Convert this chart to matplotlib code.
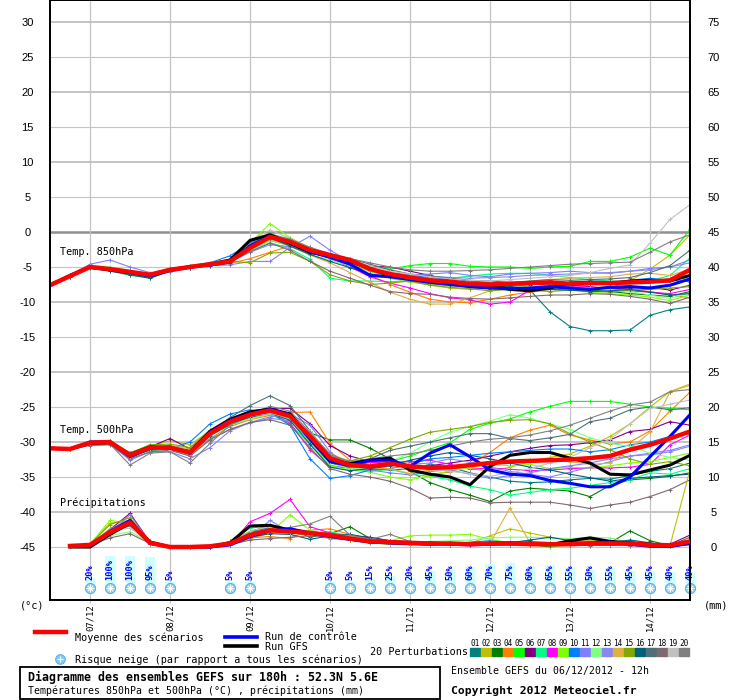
import matplotlib
matplotlib.use("Agg")
import matplotlib.pyplot as plt
from matplotlib.lines import Line2D
from matplotlib.patches import Rectangle

# time axis: hours after 06/12/2012 12h
hours = list(range(0, 193, 6))
precip_hours = hours[1:]
day_hours = [12, 36, 60, 84, 108, 132, 156, 180]
day_labels = ['07/12', '08/12', '09/12', '10/12', '11/12', '12/12', '13/12', '14/12']

pert_colors = ['#008080', '#c0c000', '#008000', '#ff8000', '#00ff00', '#800080', '#00ff80',
               '#ff00ff', '#80ff00', '#0080ff', '#8080ff', '#80ff80', '#8888f0', '#e0b040',
               '#80a800', '#006080', '#507078', '#806870', '#c0c0c0', '#808080']

# ---- Temp 850hPa ----
mean_850 = [-7.6,-6.3,-5.0,-5.3,-5.7,-6.1,-5.4,-5.0,-4.6,-4.2,-2.3,-0.7,-1.4,-2.6,-3.3,-4.0,-5.3,-6.0,-6.5,-6.9,-7.1,-7.4,-7.5,-7.4,-7.3,-7.2,-7.4,-7.3,-7.3,-7.2,-7.1,-6.9,-5.4]
ctrl_850 = [-7.6,-6.3,-5.0,-5.3,-5.8,-6.3,-5.5,-5.0,-4.7,-4.3,-2.0,-0.6,-1.5,-2.8,-3.6,-4.6,-6.2,-6.4,-6.8,-7.2,-7.5,-7.8,-8.0,-8.1,-8.0,-7.8,-8.0,-8.2,-7.9,-7.8,-8.0,-7.6,-6.7]
gfs_850 = [-7.6,-6.2,-5.0,-5.4,-5.8,-6.2,-5.4,-5.0,-4.6,-4.0,-1.2,-0.4,-1.6,-2.9,-3.4,-4.2,-5.2,-6.2,-6.6,-6.9,-7.3,-7.6,-7.6,-8.2,-8.4,-8.0,-7.3,-7.2,-7.4,-7.0,-6.9,-7.0,-6.2]
pert_850 = [
    [-7.6,-6.4,-5.1,-5.4,-5.9,-6.4,-5.5,-5.0,-4.7,-4.3,-2.4,-1.0,-1.8,-3.0,-3.6,-4.6,-5.5,-6.2,-6.8,-7.3,-7.6,-7.8,-8.0,-8.0,-8.3,-11.4,-13.5,-14.1,-14.1,-14.0,-11.9,-11.1,-10.7],
    [-7.6,-6.3,-4.9,-5.2,-5.6,-6.0,-5.6,-4.9,-4.5,-4.1,-2.6,-0.9,-1.0,-2.3,-3.3,-4.3,-5.3,-6.4,-7.0,-7.6,-8.0,-8.2,-8.0,-7.6,-7.3,-7.8,-8.2,-8.4,-8.0,-7.0,-5.3,-3.3,-0.4],
    [-7.6,-6.3,-5.0,-5.5,-6.0,-6.4,-5.4,-4.9,-4.5,-4.3,-2.5,-1.2,-1.9,-2.9,-3.5,-4.4,-5.6,-6.4,-6.9,-7.4,-7.6,-7.9,-8.1,-8.3,-8.4,-8.2,-8.0,-8.3,-8.5,-8.8,-9.0,-9.2,-8.5],
    [-7.6,-6.3,-5.1,-5.4,-5.8,-6.0,-5.5,-5.0,-4.7,-4.5,-3.8,-2.9,-2.0,-2.5,-3.5,-4.8,-6.2,-7.5,-8.6,-9.6,-10.0,-10.1,-9.6,-9.0,-8.6,-8.2,-8.3,-8.0,-7.8,-8.2,-8.5,-9.0,-9.4],
    [-7.6,-6.2,-4.9,-5.3,-5.8,-6.3,-5.3,-4.8,-4.5,-4.0,-1.8,-0.2,-1.2,-2.5,-3.4,-4.6,-5.0,-5.3,-4.8,-4.5,-4.5,-4.9,-5.0,-5.0,-5.2,-5.0,-4.9,-4.2,-4.2,-3.6,-2.3,-3.3,0.4],
    [-7.6,-6.3,-5.0,-5.3,-5.7,-6.1,-5.5,-5.1,-4.6,-4.1,-2.0,-0.8,-1.6,-2.7,-3.5,-4.3,-4.9,-5.0,-5.6,-6.2,-6.9,-7.3,-7.5,-7.7,-7.5,-7.4,-7.6,-7.8,-8.1,-8.0,-7.9,-8.3,-7.6],
    [-7.6,-6.2,-5.1,-5.5,-6.2,-6.6,-5.5,-4.9,-4.5,-4.3,-2.7,-1.5,-2.4,-3.9,-6.6,-7.0,-7.0,-7.1,-7.0,-6.8,-6.6,-6.3,-6.0,-5.9,-5.9,-6.2,-6.5,-6.8,-7.0,-7.2,-7.0,-6.2,-3.7],
    [-7.6,-6.3,-5.0,-5.3,-5.7,-6.1,-5.3,-4.9,-4.5,-4.1,-2.3,-1.0,-1.6,-2.9,-3.8,-5.0,-6.4,-7.3,-8.0,-8.8,-9.4,-9.7,-10.3,-10.0,-8.3,-8.0,-7.8,-7.9,-8.1,-8.4,-8.6,-8.8,-8.2],
    [-7.6,-6.2,-4.8,-5.0,-5.5,-6.0,-5.2,-4.8,-4.4,-3.9,-1.6,1.2,-0.8,-2.3,-3.5,-4.5,-5.6,-6.6,-7.2,-7.5,-7.7,-7.6,-7.4,-7.5,-7.9,-8.1,-8.3,-8.6,-8.8,-9.0,-9.3,-9.8,-9.0],
    [-7.6,-6.3,-5.0,-5.2,-5.6,-6.0,-5.3,-4.8,-4.4,-3.4,-1.6,-0.6,-1.5,-2.8,-3.4,-4.3,-5.2,-5.9,-6.2,-6.5,-6.7,-7.0,-7.2,-7.2,-7.3,-7.4,-7.2,-7.0,-7.1,-6.9,-6.6,-6.9,-7.1],
    [-7.6,-6.1,-4.6,-4.0,-5.0,-5.8,-5.7,-5.2,-4.8,-4.7,-4.2,-4.2,-2.2,-0.6,-2.6,-4.2,-5.3,-5.9,-6.2,-6.0,-5.8,-6.2,-6.4,-6.0,-5.9,-5.8,-5.6,-5.8,-5.9,-5.6,-5.2,-5.0,-4.0],
    [-7.6,-6.3,-5.1,-5.5,-6.0,-6.3,-5.6,-5.1,-4.7,-4.4,-2.6,-1.2,-2.0,-3.2,-4.0,-4.8,-5.8,-6.6,-7.0,-7.3,-7.5,-7.6,-7.8,-8.0,-7.9,-7.7,-7.9,-8.0,-8.2,-8.5,-9.0,-9.5,-8.7],
    [-7.6,-6.3,-5.0,-5.3,-5.8,-6.2,-5.2,-4.9,-4.5,-4.2,-2.9,-1.8,-2.1,-2.9,-3.6,-4.3,-5.4,-5.9,-6.1,-6.3,-6.5,-6.6,-6.5,-6.4,-6.2,-6.1,-6.0,-5.9,-5.8,-5.6,-5.4,-5.0,-4.4],
    [-7.6,-6.3,-5.0,-5.4,-5.9,-6.3,-5.6,-5.0,-4.6,-4.1,-2.5,-1.1,-2.0,-3.3,-4.4,-5.8,-7.2,-8.6,-9.6,-10.3,-10.3,-9.4,-8.4,-7.4,-7.0,-6.8,-6.6,-6.5,-6.4,-6.0,-5.9,-6.2,-5.3],
    [-7.6,-6.3,-5.0,-5.3,-5.7,-6.2,-5.5,-5.0,-4.6,-4.2,-4.4,-3.0,-2.9,-4.2,-6.1,-7.0,-7.5,-7.3,-7.0,-7.6,-7.9,-8.1,-8.4,-8.2,-8.3,-8.5,-8.3,-8.4,-8.6,-8.3,-8.2,-8.0,-7.8],
    [-7.6,-6.4,-5.2,-5.6,-6.1,-6.6,-5.6,-5.1,-4.8,-4.4,-2.1,-0.8,-2.0,-3.2,-4.2,-5.1,-6.0,-6.4,-6.7,-7.2,-7.5,-7.6,-7.8,-7.8,-8.0,-8.2,-8.3,-8.5,-8.4,-8.2,-8.6,-9.0,-8.8],
    [-7.6,-6.3,-5.0,-5.3,-5.7,-6.2,-5.4,-4.9,-4.5,-4.0,-1.9,-0.5,-1.4,-2.7,-3.3,-3.8,-4.6,-5.4,-6.0,-6.3,-6.6,-6.9,-7.0,-7.2,-7.0,-6.8,-6.9,-6.8,-6.7,-6.5,-5.8,-4.8,-2.6],
    [-7.6,-6.3,-5.0,-5.3,-5.7,-6.1,-5.4,-5.0,-4.6,-4.3,-2.8,-1.6,-2.6,-4.2,-5.6,-6.6,-7.6,-8.5,-8.8,-8.9,-9.3,-9.5,-9.6,-9.4,-9.2,-9.0,-9.0,-8.8,-8.9,-9.2,-9.6,-10.2,-9.3],
    [-7.6,-6.2,-4.9,-5.2,-5.7,-6.1,-5.3,-4.8,-4.4,-3.9,-1.2,0.3,-0.9,-2.2,-3.1,-4.0,-4.8,-5.6,-6.0,-6.4,-6.7,-6.9,-7.0,-6.8,-6.6,-6.4,-6.2,-5.8,-5.2,-4.7,-1.6,1.8,3.9],
    [-7.6,-6.3,-5.0,-5.3,-5.6,-6.0,-5.3,-4.9,-4.5,-4.0,-1.5,-0.3,-1.0,-2.2,-3.1,-3.8,-4.4,-5.0,-5.4,-5.6,-5.6,-5.5,-5.4,-5.2,-5.0,-4.8,-4.6,-4.5,-4.4,-4.3,-2.9,-1.4,-0.4],
]

# ---- Temp 500hPa ----
mean_500 = [-30.9,-31.0,-30.1,-30.0,-31.9,-30.8,-30.8,-31.5,-28.8,-27.1,-26.1,-25.5,-26.3,-29.2,-32.3,-33.3,-33.5,-33.1,-33.5,-33.7,-33.6,-33.3,-33.0,-32.8,-32.7,-32.6,-32.5,-32.3,-32.0,-31.1,-30.4,-29.5,-28.5]
ctrl_500 = [-30.9,-31.0,-30.0,-30.0,-32.1,-30.9,-30.7,-31.6,-28.6,-26.9,-26.0,-25.3,-26.1,-29.6,-32.8,-33.4,-32.6,-32.6,-33.5,-31.6,-30.4,-32.1,-34.0,-34.6,-34.8,-35.5,-35.9,-36.4,-36.4,-35.0,-32.1,-29.2,-26.1]
gfs_500 = [-30.9,-31.0,-30.2,-30.1,-31.8,-30.7,-30.9,-31.4,-28.5,-26.8,-25.7,-25.3,-26.0,-29.4,-32.5,-33.1,-32.6,-32.3,-34.0,-34.6,-35.0,-36.1,-33.5,-31.9,-31.5,-31.5,-32.3,-33.0,-34.6,-34.7,-34.0,-33.3,-31.9]
pert_500 = [
    [-30.9,-31.0,-30.2,-30.0,-32.3,-31.0,-30.6,-31.6,-29.0,-27.4,-26.5,-25.8,-26.6,-29.8,-33.0,-33.6,-33.8,-34.0,-33.8,-33.2,-33.6,-34.4,-35.0,-35.6,-35.8,-35.7,-35.4,-35.2,-35.3,-34.8,-34.2,-33.8,-33.0],
    [-30.9,-31.0,-30.0,-29.8,-31.7,-30.6,-29.8,-30.4,-28.4,-26.9,-26.0,-25.6,-26.8,-28.8,-31.6,-32.9,-33.2,-32.7,-33.1,-33.5,-33.4,-33.8,-34.2,-33.6,-32.8,-32.2,-31.7,-30.6,-29.2,-27.4,-25.0,-22.8,-21.9],
    [-30.9,-31.0,-30.1,-29.9,-31.8,-30.9,-30.9,-31.4,-28.9,-27.3,-26.2,-25.7,-26.4,-28.7,-29.7,-29.7,-30.9,-32.4,-34.2,-35.8,-36.8,-37.6,-38.5,-37.0,-36.6,-36.8,-37.0,-37.8,-36.2,-35.4,-35.2,-34.9,-34.4],
    [-30.9,-31.0,-30.2,-30.1,-32.2,-30.9,-31.0,-32.0,-29.5,-27.8,-26.8,-26.2,-25.8,-25.7,-30.2,-32.6,-33.4,-33.0,-34.0,-34.6,-34.3,-33.2,-31.5,-29.4,-28.3,-27.6,-29.0,-29.7,-30.3,-30.0,-28.4,-25.6,-22.9],
    [-30.9,-31.0,-30.0,-29.9,-31.6,-30.4,-30.6,-31.2,-28.4,-26.8,-25.8,-25.1,-26.0,-28.8,-32.4,-33.6,-33.4,-32.8,-32.0,-31.0,-30.1,-28.2,-27.3,-26.7,-25.7,-24.9,-24.2,-24.2,-24.2,-24.6,-25.0,-25.2,-25.4],
    [-30.9,-31.0,-30.0,-30.0,-31.5,-30.7,-29.5,-31.0,-28.3,-26.6,-25.6,-25.2,-25.2,-27.4,-30.5,-32.0,-32.8,-33.0,-33.6,-33.4,-33.0,-32.6,-32.0,-31.4,-30.9,-30.5,-30.4,-30.1,-29.7,-28.5,-28.2,-27.1,-27.6],
    [-30.9,-31.0,-30.1,-30.1,-31.9,-31.3,-30.9,-31.8,-29.1,-27.6,-26.6,-26.0,-27.4,-30.4,-33.3,-33.8,-34.2,-33.9,-34.6,-34.9,-35.4,-36.3,-36.8,-37.6,-37.2,-36.8,-36.6,-36.2,-35.8,-35.4,-34.4,-34.6,-33.8],
    [-30.9,-31.0,-30.3,-30.1,-31.8,-30.6,-30.8,-31.3,-28.9,-27.0,-26.4,-25.8,-27.3,-31.1,-33.6,-33.6,-32.9,-32.9,-32.8,-32.6,-33.2,-33.9,-33.7,-33.9,-34.1,-34.0,-33.8,-33.7,-33.7,-33.6,-33.2,-30.4,-29.0],
    [-30.9,-31.0,-30.0,-29.9,-32.2,-30.5,-30.9,-31.4,-28.6,-27.2,-26.3,-25.6,-26.6,-30.0,-33.4,-34.0,-34.3,-35.0,-35.4,-34.8,-34.1,-33.7,-33.2,-33.4,-33.2,-33.8,-33.6,-33.7,-33.4,-33.0,-32.8,-32.2,-31.6],
    [-30.9,-31.0,-30.2,-30.0,-32.0,-31.0,-31.0,-30.0,-27.4,-26.0,-25.4,-25.8,-27.6,-32.4,-35.2,-34.8,-34.0,-33.8,-33.2,-32.4,-32.2,-31.9,-31.6,-31.4,-31.2,-31.0,-31.0,-31.4,-31.1,-30.4,-30.0,-29.2,-28.8],
    [-30.9,-31.0,-30.3,-30.3,-32.6,-31.4,-31.4,-32.4,-30.8,-28.4,-27.2,-26.4,-26.0,-27.6,-31.4,-33.6,-34.0,-34.4,-34.7,-34.2,-34.0,-34.6,-35.2,-34.8,-34.4,-33.8,-33.4,-33.0,-32.4,-32.0,-31.6,-31.2,-30.4],
    [-30.9,-31.0,-30.1,-30.1,-32.0,-30.6,-31.0,-31.8,-29.2,-27.4,-26.7,-26.0,-26.8,-29.0,-32.8,-33.9,-33.6,-32.8,-31.6,-30.0,-28.6,-27.8,-27.0,-26.1,-26.6,-27.4,-28.2,-29.4,-30.2,-30.6,-31.6,-32.2,-32.6],
    [-30.9,-31.0,-30.1,-30.0,-31.7,-30.8,-30.6,-31.2,-29.6,-28.2,-27.3,-26.6,-27.0,-29.8,-32.5,-33.2,-33.5,-33.8,-33.2,-33.0,-32.4,-32.9,-33.6,-34.2,-34.6,-35.0,-34.3,-33.6,-32.8,-32.0,-31.8,-31.4,-30.6],
    [-30.9,-31.0,-30.0,-29.9,-31.5,-30.6,-30.5,-31.0,-28.7,-26.9,-26.1,-25.5,-26.2,-29.2,-32.4,-33.4,-33.7,-33.8,-34.5,-34.0,-33.9,-33.6,-33.0,-32.8,-32.6,-32.4,-32.8,-33.2,-33.0,-31.0,-28.6,-22.8,-21.7],
    [-30.9,-31.0,-29.9,-29.8,-31.6,-30.4,-30.3,-30.8,-28.3,-26.8,-25.9,-25.3,-26.4,-29.0,-32.0,-32.7,-32.0,-30.8,-29.6,-28.6,-28.2,-27.8,-27.2,-26.9,-26.8,-27.4,-28.8,-30.0,-31.1,-32.4,-33.2,-32.8,-33.4],
    [-30.9,-31.0,-30.2,-30.1,-32.1,-31.1,-31.1,-31.7,-29.1,-27.5,-26.4,-25.9,-26.9,-30.3,-33.6,-34.1,-33.8,-33.4,-32.6,-32.0,-31.5,-31.9,-32.4,-33.0,-33.6,-34.0,-34.6,-35.1,-35.6,-35.2,-35.0,-34.8,-34.6],
    [-30.9,-31.0,-30.1,-29.9,-31.9,-30.5,-30.7,-31.3,-28.6,-26.5,-24.8,-23.4,-24.8,-28.4,-32.0,-33.0,-32.4,-31.2,-30.6,-30.0,-29.4,-28.8,-28.8,-29.5,-29.8,-29.4,-28.9,-27.1,-26.6,-25.4,-25.0,-25.4,-25.1],
    [-30.9,-31.0,-30.5,-30.4,-32.4,-31.4,-31.2,-32.0,-29.7,-28.2,-27.2,-26.8,-27.6,-30.8,-33.8,-34.6,-35.0,-35.6,-36.6,-38.0,-37.9,-38.0,-38.7,-38.6,-38.6,-38.6,-39.0,-39.5,-39.0,-38.6,-37.8,-36.8,-35.4],
    [-30.9,-31.0,-30.2,-30.2,-32.2,-31.0,-31.1,-31.6,-28.9,-27.2,-26.3,-25.9,-26.5,-28.4,-32.0,-33.2,-33.3,-32.8,-33.2,-33.8,-34.2,-34.5,-34.9,-34.4,-33.8,-33.0,-32.2,-30.8,-29.6,-27.4,-25.2,-24.6,-24.0],
    [-30.9,-31.0,-30.3,-30.3,-33.3,-31.6,-31.4,-33.0,-30.2,-27.6,-26.0,-24.9,-25.6,-28.6,-31.8,-32.8,-32.4,-32.0,-31.7,-31.2,-30.6,-30.0,-29.6,-29.4,-29.0,-28.4,-27.6,-26.6,-25.6,-24.7,-24.3,-22.8,-22.5],
]

# ---- Precipitation (mm / 6h) ----
mean_pr = [0.15,0.3,2.1,3.5,0.6,0.0,0.0,0.1,0.5,1.7,2.4,2.2,2.0,1.7,1.2,0.8,0.7,0.6,0.5,0.5,0.4,0.5,0.5,0.4,0.4,0.4,0.5,0.5,0.5,0.3,0.25,0.8]
ctrl_pr = [0.1,0.1,2.2,3.8,0.5,0.0,0.0,0.0,0.3,1.5,2.3,2.6,2.0,1.5,1.1,0.7,0.6,0.5,0.6,0.4,0.3,0.4,0.5,0.6,0.5,0.4,0.6,0.7,0.4,0.1,0.1,0.5]
gfs_pr = [0.0,0.0,1.8,3.4,0.7,0.0,0.0,0.0,0.6,3.0,3.1,2.4,2.0,1.6,1.2,0.8,0.6,0.5,0.4,0.5,0.4,0.5,0.6,0.4,0.3,0.9,1.3,0.8,0.6,0.4,0.1,0.6]
pert_pr = [
    [0.1,0.3,2.0,3.4,0.6,0.0,0.0,0.1,0.4,1.6,2.6,2.0,1.8,1.4,1.4,0.8,0.7,0.5,0.6,0.4,0.6,0.4,0.3,0.5,0.4,0.3,0.4,0.6,0.4,0.3,0.2,0.6],
    [0.1,0.4,3.4,3.8,0.8,0.0,0.0,0.1,0.4,1.2,2.0,2.6,2.3,1.8,1.0,0.6,0.4,0.5,0.3,0.6,0.5,1.6,2.6,2.0,1.4,1.0,0.7,0.5,0.4,0.2,0.2,11.0],
    [0.1,0.2,1.8,3.6,0.8,0.0,0.0,0.1,0.7,2.2,2.8,2.5,1.4,1.9,2.9,1.2,0.8,0.6,0.4,0.4,0.3,0.6,0.5,0.3,0.4,0.5,0.3,0.6,2.3,0.9,0.2,0.5],
    [0.1,0.3,2.3,3.3,0.5,0.0,0.0,0.0,0.4,1.3,1.5,1.2,2.4,2.6,1.8,1.2,0.6,0.5,0.4,0.3,0.4,0.3,0.4,0.5,0.6,0.8,1.1,0.9,0.4,0.3,0.2,0.7],
    [0.1,0.2,2.1,3.5,0.9,0.0,0.0,0.0,0.6,1.9,2.2,2.3,1.8,1.5,1.0,0.6,0.4,0.3,0.4,0.3,0.4,0.5,0.4,0.3,0.0,0.3,0.4,0.4,0.3,0.2,0.1,0.9],
    [0.1,0.3,2.5,4.8,0.7,0.0,0.0,0.1,0.5,1.8,2.4,2.2,2.1,1.9,1.6,1.4,0.9,0.8,0.6,0.4,0.4,0.5,0.4,0.6,0.5,0.4,0.3,0.4,0.6,0.5,0.4,1.7],
    [0.1,0.2,1.9,3.2,0.6,0.0,0.0,0.1,0.8,2.7,3.0,2.0,1.8,2.2,1.6,1.0,0.8,0.6,0.5,0.3,0.4,0.3,0.4,0.5,0.3,0.6,0.3,0.4,0.3,0.2,0.1,0.8],
    [0.1,0.3,2.2,3.7,0.6,0.0,0.0,0.1,0.3,3.6,4.8,6.8,2.9,2.0,1.5,1.0,0.6,0.5,0.4,0.5,0.6,0.5,0.7,0.6,0.5,0.4,0.5,0.4,0.6,0.5,0.3,0.9],
    [0.1,0.4,3.8,3.4,0.8,0.0,0.0,0.1,0.5,1.6,2.0,4.6,2.4,1.6,1.3,1.0,0.9,1.6,1.7,1.7,1.8,1.1,0.6,0.4,0.5,0.6,0.5,0.4,0.3,0.2,0.1,0.6],
    [0.1,0.2,2.4,3.9,0.6,0.0,0.0,0.0,0.5,2.0,2.9,2.7,1.9,1.5,1.1,0.7,0.5,0.5,0.4,0.4,0.7,0.9,0.6,0.5,0.4,0.4,0.3,0.4,0.7,0.5,0.2,0.6],
    [0.1,0.3,2.0,4.6,0.6,0.0,0.0,0.0,0.3,1.4,3.8,2.1,1.9,1.4,1.3,0.9,0.7,0.6,0.5,0.4,0.3,0.3,0.4,0.5,0.6,0.5,0.6,0.7,0.6,0.2,0.1,0.4],
    [0.1,0.2,1.6,2.2,0.6,0.0,0.0,0.1,0.6,1.8,2.0,1.8,2.2,1.7,1.5,0.6,0.6,0.7,0.8,0.9,1.0,1.3,1.4,1.4,1.3,1.2,1.4,1.3,0.7,0.3,0.2,0.5],
    [0.1,0.3,2.3,3.6,0.5,0.0,0.0,0.0,0.4,1.6,2.4,2.8,1.8,1.2,1.0,0.6,0.5,0.4,0.4,0.3,0.3,0.4,0.3,0.4,0.5,0.5,0.4,0.3,0.2,0.1,0.1,0.3],
    [0.1,0.2,2.0,3.2,0.7,0.0,0.0,0.1,0.6,1.8,2.1,2.5,2.2,1.9,1.5,1.0,0.6,0.5,0.4,0.4,0.4,0.5,5.6,0.6,0.4,0.5,1.0,0.8,0.5,0.4,0.2,0.6],
    [0.1,0.4,3.2,4.2,0.8,0.0,0.0,0.1,0.8,2.2,3.1,2.6,2.1,1.3,1.0,0.7,0.5,0.4,0.3,0.3,0.4,0.4,0.3,0.3,0.3,0.4,0.3,0.3,0.4,0.3,0.2,0.5],
    [0.1,0.2,1.9,3.3,0.6,0.0,0.0,0.0,0.4,1.4,1.9,1.8,1.1,1.6,1.8,1.3,0.9,0.7,0.5,0.4,0.5,0.7,0.6,1.0,1.4,0.9,0.5,0.6,1.0,0.6,0.2,0.7],
    [0.1,0.3,2.2,3.0,0.7,0.0,0.0,0.1,0.5,1.9,2.6,2.4,2.0,1.8,1.1,0.8,0.6,0.4,0.5,0.3,0.3,0.4,0.3,0.4,0.3,0.3,0.2,0.3,0.4,0.3,0.2,1.4],
    [0.1,0.3,1.3,1.9,0.5,0.0,0.0,0.0,0.3,1.0,1.2,1.4,1.6,1.5,1.2,0.8,0.5,0.4,0.3,0.4,0.3,0.3,0.4,0.3,0.4,0.3,0.4,0.3,0.2,0.2,0.1,0.5],
    [0.1,0.2,2.4,2.7,0.6,0.0,0.0,0.1,0.6,2.3,2.9,2.0,2.1,1.5,1.1,0.8,0.5,0.5,0.5,0.4,0.4,0.4,0.5,0.4,0.4,0.5,0.4,0.4,0.3,0.2,0.1,0.6],
    [0.1,0.3,2.6,3.9,0.7,0.0,0.0,0.1,0.4,1.7,2.4,2.8,3.3,4.4,1.7,1.1,1.8,0.8,0.5,0.4,0.4,0.5,0.4,0.5,0.4,0.3,0.4,0.4,0.3,0.2,0.1,0.7],
]

# ---- snow risk (% of scenarios) ----
snow_hours = [12, 18, 24, 30, 36, 54, 60, 84, 90, 96, 102, 108, 114, 120, 126, 132, 138,
              144, 150, 156, 162, 168, 174, 180, 186, 192]
snow_pct = [20, 100, 100, 95, 5, 5, 5, 5, 5, 15, 25, 20, 45, 50, 60, 70, 75, 60, 65, 55,
            50, 55, 45, 45, 40, 40]

MONO = 'DejaVu Sans Mono'
W, H = 740, 700


def fx(px):
    return px / W


def fy(py):
    return 1 - py / H


fig = plt.figure(figsize=(7.4, 7.0), dpi=100)
ax = fig.add_axes([fx(50), fy(600), 640 / W, 600 / H])
ax.set_xlim(0, 192)
ymin, ymax = (232 - 600) / 7, 232 / 7
ax.set_ylim(ymin, ymax)

# grid
for v in range(-45, 31, 5):
    if v == 0:
        ax.axhline(v, color='#909090', lw=1.8, zorder=0)
    elif v % 10 == 0:
        ax.axhline(v, color='#c4c4c4', lw=1.4, zorder=0)
    else:
        ax.axhline(v, color='#c4c4c4', lw=0.8, zorder=0)
for h in day_hours:
    ax.axvline(h, color='#c4c4c4', lw=0.9, zorder=0)

for series, col in zip(pert_850, pert_colors):
    ax.plot(hours, series, color=col, lw=0.8, marker='+', ms=3, mew=0.7, zorder=2)
for series, col in zip(pert_500, pert_colors):
    ax.plot(hours, series, color=col, lw=0.8, marker='+', ms=3, mew=0.7, zorder=2)
ax.plot(hours, gfs_850, color='black', lw=2.2, zorder=3)
ax.plot(hours, ctrl_850, color='#0000ff', lw=2.2, zorder=3)
ax.plot(hours, mean_850, color='#ff0000', lw=3.2, zorder=4)
ax.plot(hours, gfs_500, color='black', lw=2.2, zorder=3)
ax.plot(hours, ctrl_500, color='#0000ff', lw=2.2, zorder=3)
ax.plot(hours, mean_500, color='#ff0000', lw=3.2, zorder=4)

# precipitation on the right (mm) axis
ax2 = ax.twinx()
ax2.set_ylim(ymin + 45, ymax + 45)
for series, col in zip(pert_pr, pert_colors):
    ax2.plot(precip_hours, series, color=col, lw=0.8, marker='+', ms=3, mew=0.7, zorder=2)
ax2.plot(precip_hours, gfs_pr, color='black', lw=2.2, zorder=3)
ax2.plot(precip_hours, ctrl_pr, color='#0000ff', lw=2.2, zorder=3)
ax2.plot(precip_hours, mean_pr, color='#ff0000', lw=3.2, zorder=4)

# section labels
ax.text(3, (232 - 252) / 7, 'Temp. 850hPa', family=MONO, fontsize=7.3, va='center')
ax.text(3, (232 - 430) / 7, 'Temp. 500hPa', family=MONO, fontsize=7.3, va='center')
ax.text(3, (232 - 503) / 7, 'Précipitations', family=MONO, fontsize=7.3, va='center')

# snow risk bars, percentages and flakes
bar_base = (232 - 583) / 7
bar_full = 27 / 7
ax.bar(snow_hours, [p / 100 * bar_full for p in snow_pct], bottom=bar_base, width=3,
       color='#ccffff', zorder=1, clip_on=False)
for h, p in zip(snow_hours, snow_pct):
    ax.text(h, (232 - 580) / 7, f'{p}%', rotation=90, ha='center', va='bottom',
            family=MONO, fontsize=6.2, fontweight='bold', color='#0000ff', zorder=5,
            clip_on=False)
flake_y = (232 - 588) / 7
ax.scatter(snow_hours, [flake_y] * len(snow_hours), s=55, color='#80ccf4',
           edgecolor='#50a8e0', lw=0.6, zorder=5, clip_on=False)
ax.scatter(snow_hours, [flake_y] * len(snow_hours), s=28, marker='+', color='white',
           lw=0.8, zorder=6, clip_on=False)
ax.scatter(snow_hours, [flake_y] * len(snow_hours), s=16, marker='x', color='white',
           lw=0.8, zorder=6, clip_on=False)

# axes styling
for a in (ax, ax2):
    for s in a.spines.values():
        s.set_linewidth(1.3)
ax.set_yticks(range(-45, 31, 5))
ax.set_yticklabels([str(v) for v in range(-45, 31, 5)])
ax2.set_yticks(range(0, 76, 5))
ax2.set_yticklabels([str(v) for v in range(0, 76, 5)])
ax.tick_params(axis='y', length=0, pad=16, labelsize=8)
ax2.tick_params(axis='y', length=0, pad=17, labelsize=8)
for lab in ax.get_yticklabels():
    lab.set_ha('center')
    lab.set_family('Liberation Sans')
for lab in ax2.get_yticklabels():
    lab.set_ha('center')
    lab.set_family('Liberation Sans')
ax.set_xticks(day_hours)
ax.set_xticklabels(day_labels, rotation=90, family=MONO, fontsize=6.4)
ax.tick_params(axis='x', length=2, color='#c0c0c0', pad=1)

fig.text(fx(20), fy(606), '(°c)', family=MONO, fontsize=7.3, va='center')
fig.text(fx(704), fy(606), '(mm)', family=MONO, fontsize=7.3, va='center')

# legend block
fig.add_artist(Line2D([fx(35), fx(66)], [fy(632), fy(632)], color='#ff0000', lw=3.2))
fig.text(fx(75), fy(638), 'Moyenne des scénarios', family=MONO, fontsize=7.3, va='center')
fig.add_artist(Line2D([fx(225), fx(257)], [fy(637), fy(637)], color='#0000ff', lw=2.6))
fig.text(fx(265), fy(637), 'Run de contrôle', family=MONO, fontsize=7.3, va='center')
fig.add_artist(Line2D([fx(225), fx(257)], [fy(646), fy(646)], color='black', lw=2.6))
fig.text(fx(265), fy(647), 'Run GFS', family=MONO, fontsize=7.3, va='center')
fig.add_artist(Line2D([fx(60)], [fy(659)], marker='o', ms=7, color='#80ccf4',
                      mec='#50a8e0', mew=0.6))
fig.add_artist(Line2D([fx(60)], [fy(659)], marker='+', ms=5, color='white', mew=0.8))
fig.text(fx(75), fy(660), 'Risque neige (par rapport a tous les scénarios)', family=MONO,
         fontsize=7.3, va='center')
fig.text(fx(370), fy(652), '20 Perturbations', family=MONO, fontsize=7.3, va='center')
for i, col in enumerate(pert_colors):
    x0 = 470 + i * 11
    fig.add_artist(Rectangle((fx(x0), fy(656)), 10 / W, 8 / H, color=col,
                             transform=fig.transFigure))
    fig.text(fx(x0 + 5), fy(643), f'{i + 1:02d}', family=MONO, fontsize=5.6,
             ha='center', va='center')

fig.add_artist(Rectangle((fx(20), fy(699)), 420 / W, 32 / H, fill=False, ec='black',
                         lw=1.3, transform=fig.transFigure))
fig.text(fx(28), fy(677), 'Diagramme des ensembles GEFS sur 180h : 52.3N 5.6E', family=MONO,
         fontsize=8.4, fontweight='bold', va='center')
fig.text(fx(28), fy(691), 'Températures 850hPa et 500hPa (°C) , précipitations (mm)',
         family=MONO, fontsize=7.1, va='center')
fig.text(fx(451), fy(671), 'Ensemble GEFS du 06/12/2012 - 12h', family=MONO, fontsize=7.1,
         va='center')
fig.text(fx(451), fy(691), 'Copyright 2012 Meteociel.fr', family=MONO, fontsize=8.2,
         fontweight='bold', va='center')

fig.savefig('out.png', dpi=100)
